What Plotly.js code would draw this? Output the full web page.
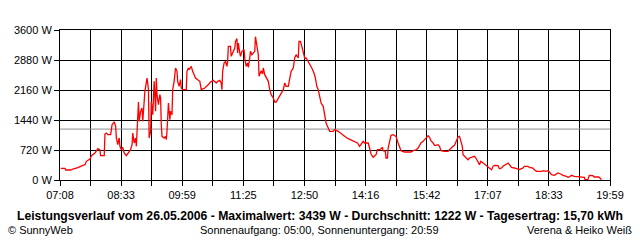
<!DOCTYPE html>
<html>
<head>
<meta charset="utf-8">
<script src="https://cdn.plot.ly/plotly-3.0.1.min.js"></script>
<style>html,body{margin:0;padding:0;background:#fff;}#chart{width:640px;height:240px;}</style>
</head>
<body>
<div id="chart"></div>
<script>
// Time of day in minutes after midnight
const timeMin = [429,435,436,443,446,453,460,463,465,470,472,477,481,484,485,490,491,493,495,499,501,504,506,507,509,511,512,514,516,518,521,524,527,529,530,532,534,535,537,538,539,541,543,544,547,549,550,552,553,
555,556,558,560,562,563,564,566,568,569,570,571,574,576,577,578,580,582,583,585,586,588,590,592,593,595,597,598,600,605,606,608,609,612,614,618,621,624,626,631,635,639,643,647,649,652,654,655,656,658,660,662,663,664,667,668,670,673,674,676,
677,678,680,681,683,686,687,689,691,692,694,695,697,701,702,704,706,707,709,710,712,713,715,717,720,722,724,727,729,731,734,736,738,741,743,745,748,750,752,755,757,759,762,763,765,767,769,771,773,776,778,781,784,786,788,790,792,794,797,799,801,804,806,
811,813,818,822,827,832,836,841,845,848,850,853,855,860,862,864,867,869,871,873,876,878,880,881,884,885,887,888,890,892,895,897,899,902,904,906,911,920,923,927,930,
932,934,937,940,944,946,948,951,953,955,958,960,962,967,972,974,976,979,981,983,986,988,990,992,993,995,997,1000,1002,1004,1009,1011,1014,1016,1018,1021,1023,1026,1029,1033,1035,1037,1042,1044,1047,1049,1054,1056,
1058,1061,1065,1068,1072,1075,1077,1079,1084,1086,1091,1093,1096,1103,1106,1109,1112,1114,1117,1121,1124,1126,1130,1133,1138,1140,1142,1145,1149,1154,1158,1163,1164,1168,1170,1175,1177,1183,1185,1187];
// Power in W
const powerW = [281,281,240,240,264,296,352,368,448,504,584,648,752,720,584,584,1104,1128,1088,1088,1328,1392,1288,1008,848,1008,808,728,784,648,584,672,728,848,1128,888,1008,808,1408,1872,1408,1648,1728,1408,2128,2448,2448,2168,1008,
1168,1888,1568,2368,1648,2448,2048,1808,2048,1968,1328,1048,1008,1048,968,1168,1848,1448,1648,1568,2168,2368,2688,2608,2368,2248,2408,2208,2168,2168,2608,2688,2648,2728,2608,2448,2408,2368,2168,2208,2272,2352,2392,2328,2368,2392,2328,2168,2608,2808,2848,2728,2848,3208,3208,2968,3048,3168,3328,3392,
3048,3288,3048,2968,3088,3128,2928,2728,2808,2704,2928,3088,3008,3088,3439,3208,3008,2488,2624,2624,2544,2688,2528,2448,2368,2168,2048,1968,1872,1872,1968,2008,2088,2168,2328,2248,2248,2488,2608,2688,2928,3008,2928,3328,3328,3208,3088,2928,2928,2848,2768,2688,2568,2448,2248,2168,2008,1848,1768,1568,1368,1248,1168,
1168,1208,1168,1104,1048,992,960,912,888,808,848,928,888,888,768,624,544,568,608,728,728,752,784,704,688,528,528,768,888,1072,1088,1072,1048,888,784,704,672,672,704,720,768,
848,888,928,992,1064,1024,944,888,832,832,848,808,704,688,688,728,768,808,832,928,1032,1048,928,808,608,568,528,488,528,544,568,528,408,368,448,408,368,328,288,248,328,352,344,272,288,328,384,408,
368,304,288,272,248,272,288,328,328,304,288,248,208,208,224,208,224,192,128,112,144,168,144,112,88,64,72,112,88,80,64,64,8,8,112,104,72,72,48,8];
const averageW = [1222];
const xRangeMin = [428, 1199];
const xTickLabels = ["07:08","08:33","09:59","11:25","12:50","14:16","15:42","17:07","18:33","19:59"];
const yTickVals = [0,720,1440,2160,2880,3600];
const yTickLabels = ["0 W","720 W","1440 W","2160 W","2880 W","3600 W"];
const titleText = "Leistungsverlauf vom 26.05.2006 - Maximalwert: 3439 W - Durchschnitt: 1222 W - Tagesertrag: 15,70 kWh";
const footLeft = "© SunnyWeb";
const footMid = "Sonnenaufgang: 05:00, Sonnenuntergang: 20:59";
const footRight = "Verena & Heiko Weiß";

// gridlines: 18 intervals, labels every second
const nInt = 18;
const step = (xRangeMin[1]-xRangeMin[0])/nInt;
const xTickVals = [], xTickText = [];
for (let i=0;i<=nInt;i++){ xTickVals.push(xRangeMin[0]+i*step); xTickText.push(i%2===0 ? xTickLabels[i/2] : ""); }

const font = "Liberation Sans, Arial, sans-serif";
const data = [{
  x: timeMin, y: powerW, type: "scatter", mode: "lines",
  line: {color: "#ff0000", width: 1.3}, hoverinfo: "skip"
}];
const layout = {
  width: 640, height: 240, autosize: false,
  margin: {l: 60, r: 30, t: 30, b: 60, pad: 0},
  paper_bgcolor: "#ffffff", plot_bgcolor: "#ffffff",
  showlegend: false,
  font: {family: font, size: 11, color: "#000"},
  xaxis: {
    range: xRangeMin, tickmode: "array", tickvals: xTickVals, ticktext: xTickText,
    ticks: "outside", ticklen: 5, tickwidth: 1, tickcolor: "#000",
    showgrid: true, gridcolor: "#000", gridwidth: 1,
    showline: true, linecolor: "#000", linewidth: 1, mirror: true, zeroline: false,
    tickfont: {family: font, size: 11, color: "#000"}, fixedrange: true
  },
  yaxis: {
    range: [0, 3600], tickmode: "array", tickvals: yTickVals, ticktext: yTickLabels,
    ticks: "outside", ticklen: 5, tickwidth: 1, tickcolor: "#000",
    showgrid: true, gridcolor: "#000", gridwidth: 1,
    showline: true, linecolor: "#000", linewidth: 1, mirror: true, zeroline: false,
    tickfont: {family: font, size: 11, color: "#000"}, fixedrange: true
  },
  shapes: [{
    type: "line", xref: "x", yref: "y", x0: xRangeMin[0], x1: xRangeMin[1], y0: averageW[0], y1: averageW[0],
    line: {color: "#8c8c8c", width: 1}, layer: "between"
  }],
  annotations: [
    {text: "<b>"+titleText+"</b>", xref: "paper", yref: "paper", x: 0.4727, y: -0.2367, xanchor: "center", yanchor: "middle", showarrow: false, borderpad: 0, font: {family: font, size: 12.2, color: "#000"}},
    {text: footLeft, xref: "paper", yref: "paper", x: -0.0964, y: -0.33, xanchor: "left", yanchor: "middle", showarrow: false, borderpad: 0, font: {family: font, size: 11, color: "#000"}},
    {text: footMid, xref: "paper", yref: "paper", x: 0.4727, y: -0.33, xanchor: "center", yanchor: "middle", showarrow: false, borderpad: 0, font: {family: font, size: 11, color: "#000"}},
    {text: footRight, xref: "paper", yref: "paper", x: 1.0418, y: -0.33, xanchor: "right", yanchor: "middle", showarrow: false, borderpad: 0, font: {family: font, size: 11, color: "#000"}}
  ]
};
Plotly.newPlot("chart", data, layout, {staticPlot: true, displayModeBar: false});
</script>
</body>
</html>
